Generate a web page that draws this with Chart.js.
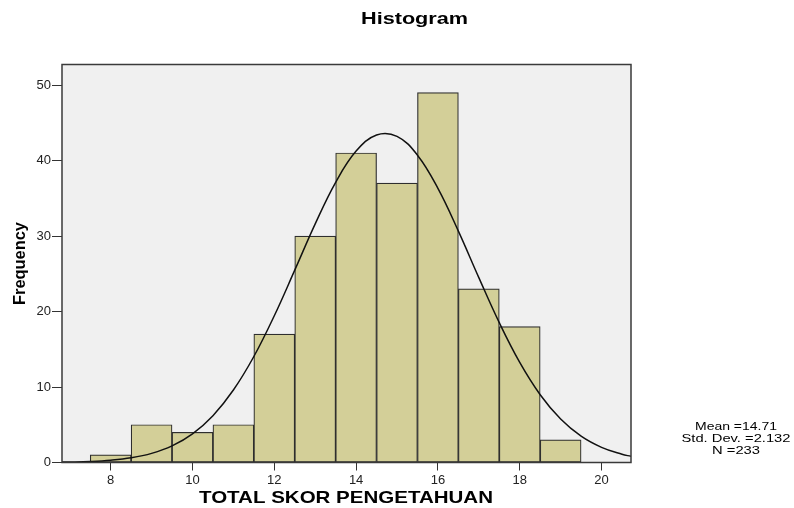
<!DOCTYPE html>
<html>
<head>
<meta charset="utf-8">
<script src="https://cdn.jsdelivr.net/npm/chart.js@4/dist/chart.umd.min.js"></script>
<style>
  html, body { margin: 0; padding: 0; background: #ffffff; }
  #wrap { width: 794px; height: 508px; }
</style>
</head>
<body>
<div id="wrap"><canvas id="c" width="794" height="508"></canvas></div>
<script>
// ---- data ----
const categories = [8, 9, 10, 11, 12, 13, 14, 15, 16, 17, 18, 19];
const frequencies = [1, 5, 4, 5, 17, 30, 41, 37, 49, 23, 18, 3];
const curveX = [6.81, 7, 7.5, 8, 8.5, 9, 9.5, 10, 10.5, 11, 11.5, 12, 12.5, 13, 13.5, 14, 14.5, 15, 15.5, 16, 16.5, 17, 17.5, 18, 18.5, 19, 19.5, 20, 20.5, 20.72];
const curveY = [0.05, 0.06, 0.14, 0.31, 0.63, 1.21, 2.2, 3.8, 6.2, 9.6, 14.04, 19.44, 25.48, 31.61, 37.12, 41.25, 43.39, 43.2, 40.71, 36.31, 30.65, 24.49, 18.52, 13.26, 8.98, 5.76, 3.49, 2.01, 1.09, 0.82];
const xTicks = [8, 10, 12, 14, 16, 18, 20];
const yTicks = [0, 10, 20, 30, 40, 50];
const titleText = 'Histogram';
const xTitle = 'TOTAL SKOR PENGETAHUAN';
const yTitle = 'Frequency';
const statsLines = ['Mean =14.71', 'Std. Dev. =2.132', 'N =233'];

const FONT = "Arial, 'Liberation Sans', sans-serif";

function drawStretched(ctx, text, cx, baseY, font, targetW) {
  ctx.save();
  ctx.font = font;
  const w = ctx.measureText(text).width;
  ctx.translate(cx, baseY);
  ctx.scale(targetW / w, 1);
  ctx.textAlign = 'center';
  ctx.textBaseline = 'alphabetic';
  ctx.fillStyle = '#000';
  ctx.fillText(text, 0, 0);
  ctx.restore();
}

const decor = {
  id: 'decor',
  beforeDraw(chart) {
    const { ctx, chartArea: a } = chart;
    ctx.save();
    ctx.fillStyle = '#ffffff';
    ctx.fillRect(0, 0, chart.width, chart.height);
    ctx.fillStyle = '#f0f0f0';
    ctx.fillRect(a.left, a.top, a.right - a.left, a.bottom - a.top);
    ctx.restore();
  },
  afterDraw(chart) {
    const { ctx, chartArea: a } = chart;
    ctx.save();
    ctx.strokeStyle = '#3a3a3a';
    ctx.lineWidth = 1.5;
    ctx.strokeRect(a.left, a.top, a.right - a.left, a.bottom - a.top);
    ctx.restore();

    drawStretched(ctx, titleText, 414.5, 24, 'bold 16px ' + FONT, 107);
    drawStretched(ctx, xTitle, 346, 503, 'bold 17px ' + FONT, 294);
    // y title, rotated
    ctx.save();
    ctx.font = 'bold 16px ' + FONT;
    const w = ctx.measureText(yTitle).width;
    ctx.translate(24.5, 263.5);
    ctx.rotate(-Math.PI / 2);
    ctx.scale(83 / w, 1);
    ctx.textAlign = 'center';
    ctx.textBaseline = 'alphabetic';
    ctx.fillStyle = '#000';
    ctx.fillText(yTitle, 0, 0);
    ctx.restore();

    const widths = [82, 109, 48];
    const bases = [430, 442, 454];
    statsLines.forEach((t, i) => drawStretched(ctx, t, 736, bases[i], '11px ' + FONT, widths[i]));
  }
};

new Chart(document.getElementById('c'), {
  data: {
    datasets: [
      {
        type: 'line',
        order: 1,
        data: curveX.map((x, i) => ({ x: x, y: curveY[i] })),
        borderColor: '#111111',
        borderWidth: 1.5,
        pointRadius: 0,
        tension: 0.4,
        fill: false
      },
      {
        type: 'bar',
        order: 2,
        data: categories.map((c, i) => ({ x: c, y: frequencies[i] })),
        backgroundColor: '#d3cf98',
        borderColor: '#2e2e2e',
        borderWidth: 1.2,
        borderSkipped: false,
        barPercentage: 1,
        categoryPercentage: 1,
        grouped: false
      }
    ]
  },
  options: {
    responsive: false,
    animation: false,
    devicePixelRatio: 1,
    layout: { padding: { top: 64.5, right: 163, left: 0, bottom: 0 } },
    plugins: { legend: { display: false }, tooltip: { enabled: false }, title: { display: false } },
    scales: {
      x: {
        type: 'linear',
        min: 6.81,
        max: 20.72,
        offset: false,
        afterBuildTicks: s => { s.ticks = xTicks.map(v => ({ value: v })); },
        afterFit: s => { s.height = 45.5; },
        grid: { offset: false, drawOnChartArea: false, drawTicks: true, tickLength: 8, color: '#333333', lineWidth: 1 },
        border: { display: false },
        ticks: { font: { family: FONT, size: 13 }, color: '#222222', padding: 2, maxRotation: 0, autoSkip: false }
      },
      y: {
        type: 'linear',
        min: 0,
        max: 52.72,
        afterBuildTicks: s => { s.ticks = yTicks.map(v => ({ value: v })); },
        afterFit: s => { s.width = 62; },
        grid: { offset: false, drawOnChartArea: false, drawTicks: true, tickLength: 10, color: '#333333', lineWidth: 1 },
        border: { display: false },
        ticks: { font: { family: FONT, size: 13 }, color: '#222222', padding: 1 }
      }
    }
  },
  plugins: [decor]
});
</script>
</body>
</html>
